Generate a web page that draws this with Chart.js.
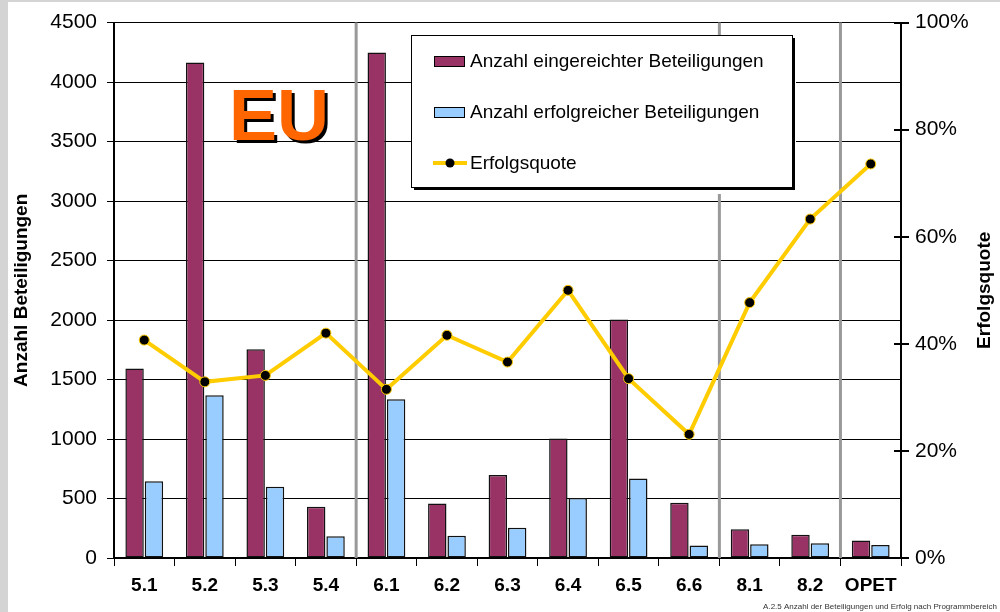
<!DOCTYPE html>
<html>
<head>
  <title>Anzahl der Beteiligungen und Erfolg</title>
  <script src="https://cdn.jsdelivr.net/npm/chart.js"></script>
  <style>
    body { margin: 0; background: #fff; }
    #wrap { width: 1000px; height: 612px; }
  </style>
</head>
<body>
  <div id="wrap"><canvas id="graphique" width="1000" height="612"></canvas></div>

  <script>
    // Daten
    const categories = ["5.1", "5.2", "5.3", "5.4", "6.1", "6.2", "6.3", "6.4", "6.5", "6.6", "8.1", "8.2", "OPET"];
    const eingereicht = [1593, 4164, 1755, 431, 4248, 459, 697, 1005, 2004, 465, 241, 196, 148];
    const erfolgreich = [646, 1368, 599, 182, 1335, 187, 255, 504, 669, 106, 115, 123, 109];
    const quote = [40.7, 32.9, 34.1, 42.0, 31.5, 41.6, 36.6, 50.0, 33.5, 23.1, 47.7, 63.3, 73.6];
    const leftTicks = [0, 500, 1000, 1500, 2000, 2500, 3000, 3500, 4000, 4500];
    const rightTicks = [0, 20, 40, 60, 80, 100];
    // Gruppengrenzen (graue Trennlinien vor diesen Kategorien)
    const groupStarts = ["6.1", "8.1", "OPET"];

    const FONT = "Arial, 'Liberation Sans', sans-serif";

    // Hintergrund, Trennlinien, Titel, Legende, "EU"
    const extras = {
      id: "extras",
      beforeDraw(chart) {
        const ctx = chart.ctx;
        ctx.save();
        ctx.fillStyle = "#fff";
        ctx.fillRect(0, 0, chart.width, chart.height);
        ctx.fillStyle = "#d4d4d4";
        ctx.fillRect(0, 0, 8, chart.height);
        ctx.fillRect(0, 0, chart.width, 2);
        ctx.restore();
      },
      beforeDatasetsDraw(chart) {
        const ctx = chart.ctx;
        const x = chart.scales.x;
        const area = chart.chartArea;
        ctx.save();
        ctx.strokeStyle = "#999";
        ctx.lineWidth = 3;
        groupStarts.forEach(lab => {
          const i = categories.indexOf(lab);
          const px = (x.getPixelForValue(i - 1) + x.getPixelForValue(i)) / 2;
          ctx.beginPath();
          ctx.moveTo(px, area.top);
          ctx.lineTo(px, area.bottom);
          ctx.stroke();
        });
        // innere Teilstriche der rechten Achse
        const y1 = chart.scales.y1;
        ctx.strokeStyle = "#000";
        ctx.lineWidth = 2;
        rightTicks.forEach(v => {
          const py = Math.round(y1.getPixelForValue(v));
          ctx.beginPath();
          ctx.moveTo(area.right - 7, py);
          ctx.lineTo(area.right, py);
          ctx.stroke();
        });
        ctx.restore();
      },
      afterDraw(chart) {
        const ctx = chart.ctx;
        const area = chart.chartArea;
        ctx.save();

        // Achsentitel
        ctx.fillStyle = "#000";
        ctx.font = "bold 19px " + FONT;
        ctx.textAlign = "center";
        ctx.textBaseline = "middle";
        const midY = (area.top + area.bottom) / 2;
        ctx.save();
        ctx.translate(22, midY);
        ctx.rotate(-Math.PI / 2);
        ctx.fillText("Anzahl Beteiligungen", 0, 0);
        ctx.restore();
        ctx.save();
        ctx.translate(985, midY);
        ctx.rotate(-Math.PI / 2);
        ctx.fillText("Erfolgsquote", 0, 0);
        ctx.restore();

        // "EU"
        ctx.font = "bold 72px " + FONT;
        ctx.textAlign = "left";
        ctx.textBaseline = "alphabetic";
        ctx.fillStyle = "#000";
        ctx.fillText("EU", 232, 143);
        ctx.fillStyle = "#FF6600";
        ctx.fillText("EU", 229, 140);

        // Legende
        const lx = 411, ly = 35, lw = 381, lh = 152;
        ctx.fillStyle = "#fff";
        ctx.fillRect(lx, ly, lw + 4, lh + 7);
        ctx.fillStyle = "#000";
        ctx.fillRect(lx + 3, ly + 3, lw, lh);
        ctx.fillStyle = "#fff";
        ctx.fillRect(lx, ly, lw, lh);
        ctx.strokeStyle = "#000";
        ctx.lineWidth = 1;
        ctx.strokeRect(lx + 0.5, ly + 0.5, lw, lh);

        const ds = chart.data.datasets;
        const items = [ds[1], ds[2], ds[0]];
        const rows = [61, 112, 163];
        ctx.font = "19px " + FONT;
        ctx.textBaseline = "middle";
        items.forEach((d, k) => {
          const cy = rows[k];
          if (d.type === "line") {
            ctx.strokeStyle = d.borderColor;
            ctx.lineWidth = 4;
            ctx.beginPath();
            ctx.moveTo(433, cy);
            ctx.lineTo(467, cy);
            ctx.stroke();
            ctx.beginPath();
            ctx.arc(450, cy, 4.5, 0, Math.PI * 2);
            ctx.fillStyle = "#000";
            ctx.fill();
          } else {
            ctx.fillStyle = d.backgroundColor;
            ctx.fillRect(434, cy - 5, 31, 11);
            ctx.strokeStyle = "#000";
            ctx.lineWidth = 1;
            ctx.strokeRect(434.5, cy - 4.5, 30, 10);
          }
          ctx.fillStyle = "#000";
          ctx.fillText(d.label, 470, cy + 1);
        });

        // Fussnote
        ctx.font = "8px " + FONT;
        ctx.textAlign = "right";
        ctx.textBaseline = "alphabetic";
        ctx.fillStyle = "#333";
        ctx.fillText("A.2.5 Anzahl der Beteiligungen und Erfolg nach Programmbereich", 997, 609);
        ctx.restore();
      }
    };

    new Chart(document.getElementById("graphique"), {
      type: "bar",
      data: {
        labels: categories,
        datasets: [
          {
            type: "line",
            label: "Erfolgsquote",
            data: quote,
            yAxisID: "y1",
            borderColor: "#FFCC00",
            borderWidth: 4,
            tension: 0,
            pointRadius: 5,
            pointBackgroundColor: "#000",
            pointBorderColor: "#FFCC00",
            pointBorderWidth: 1,
            order: 0
          },
          {
            label: "Anzahl eingereichter Beteiligungen",
            data: eingereicht,
            yAxisID: "y",
            backgroundColor: "#993366",
            borderColor: "#111",
            borderWidth: 1.5,
            borderSkipped: false,
            categoryPercentage: 0.64,
            barPercentage: 0.95,
            order: 1
          },
          {
            label: "Anzahl erfolgreicher Beteiligungen",
            data: erfolgreich,
            yAxisID: "y",
            backgroundColor: "#99CCFF",
            borderColor: "#111",
            borderWidth: 1.5,
            borderSkipped: false,
            categoryPercentage: 0.64,
            barPercentage: 0.95,
            order: 2
          }
        ]
      },
      options: {
        responsive: false,
        animation: false,
        layout: { padding: { top: 22, left: 0, right: 0, bottom: 0 } },
        plugins: {
          legend: { display: false },
          tooltip: { enabled: false }
        },
        scales: {
          x: {
            grid: { drawOnChartArea: false, color: "#000", tickLength: 8, lineWidth: 1 },
            border: { color: "#000", width: 2 },
            ticks: { color: "#000", font: { family: FONT, size: 19, weight: "bold" }, padding: 8 },
            afterFit(s) { s.height = 54; }
          },
          y: {
            position: "left",
            min: 0,
            max: 4500,
            afterBuildTicks(s) { s.ticks = leftTicks.map(v => ({ value: v })); },
            grid: { color: "#000", lineWidth: 1, tickLength: 7 },
            border: { color: "#000", width: 2 },
            ticks: { color: "#000", font: { family: FONT, size: 21 }, padding: 10, callback: v => String(v) },
            afterFit(s) { s.width = 114; }
          },
          y1: {
            position: "right",
            min: 0,
            max: 100,
            afterBuildTicks(s) { s.ticks = rightTicks.map(v => ({ value: v })); },
            grid: { drawOnChartArea: false, color: "#000", lineWidth: 2, tickLength: 8 },
            border: { color: "#000", width: 2 },
            ticks: { color: "#000", font: { family: FONT, size: 21 }, padding: 6, callback: v => v + "%" },
            afterFit(s) { s.width = 99; }
          }
        }
      },
      plugins: [extras]
    });
  </script>
</body>
</html>
